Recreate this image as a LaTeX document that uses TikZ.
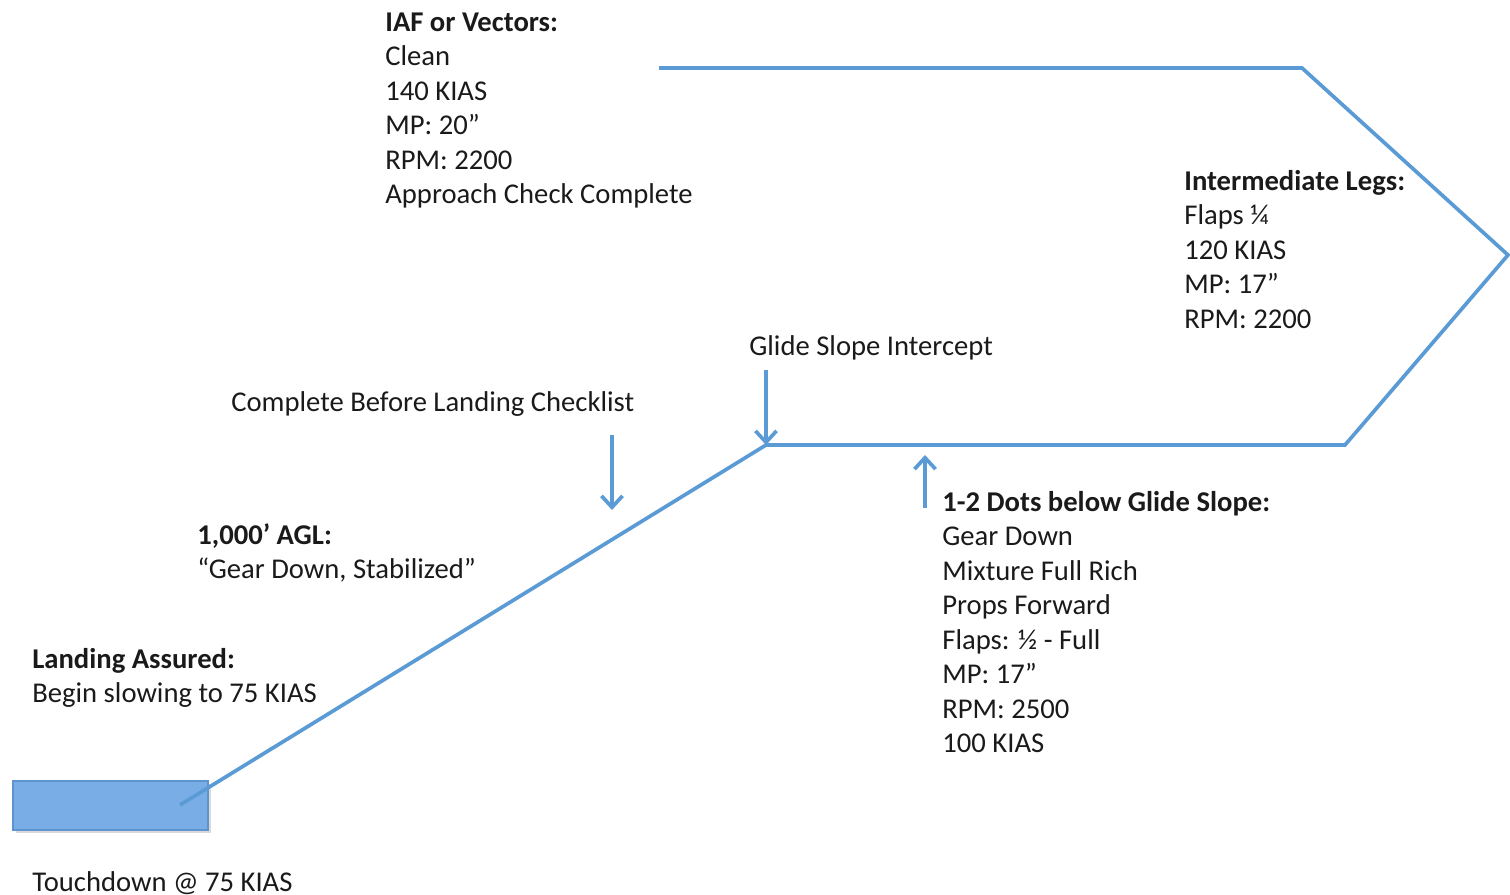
\documentclass[tikz,border=0pt]{standalone}
\usepackage{fontspec}
\setmainfont{Carlito}
\usetikzlibrary{arrows.meta,shadows}
\definecolor{PathBlue}{HTML}{5B9BD5}
\definecolor{RunwayFill}{HTML}{79ADE6}
\definecolor{RunwayEdge}{HTML}{5F93CF}
\definecolor{TextColor}{HTML}{1A1A1A}

\begin{document}
\begin{tikzpicture}[
    x=0.02cm, y=-0.02cm,
    flightpath/.style={draw=PathBlue, line width=2.1pt, line join=miter},
    cuearrow/.style={draw=PathBlue, line width=2.1pt, -{Straight Barb[length=6.5pt,width=12pt]}},
    runway/.style={rectangle, fill=RunwayFill, draw=RunwayEdge, line width=0.6pt, minimum width=3.9cm, minimum height=0.98cm, inner sep=0pt,
        drop shadow={opacity=0.3, shadow xshift=1.5pt, shadow yshift=-1.5pt}},
    infotext/.style={anchor=north west, inner sep=0pt, align=left, text=TextColor, font=\fontsize{16.3}{19.6}\selectfont}
]

\useasboundingbox (0,0) rectangle (1510,895);

% approach path
\coordinate (iaf) at (659,68);
\coordinate (turnin) at (1302,68);
\coordinate (tip) at (1508,255);
\coordinate (base) at (1345,445);
\coordinate (gsi) at (766,445);
\coordinate (td) at (180,805);

\node[runway] (rwy) at (110.5,805.5) {};

\draw[flightpath] (iaf) -- (turnin) -- (tip) -- (base) -- (gsi) -- (td);

% cue arrows
\coordinate (cbl top) at (612,435);
\coordinate (cbl end) at (612,510);
\coordinate (gsi top) at (766,370);
\coordinate (dots low) at (925,508);
\coordinate (dots end) at (925,455);

\draw[cuearrow] (cbl top) -- (cbl end);
\draw[cuearrow] (gsi top) -- (gsi);
\draw[cuearrow] (dots low) -- (dots end);

% labels
\node[infotext] (iaftext) at (385,7) {\strut\textbf{IAF or Vectors:}\\Clean\\140 KIAS\\MP: 20”\\RPM: 2200\\Approach Check Complete};
\node[infotext] (legstext) at (1184,166) {\strut\textbf{Intermediate Legs:}\\Flaps ¼\\120 KIAS\\MP: 17”\\RPM: 2200};
\node[infotext] (gsitext) at (749,331) {\strut Glide Slope Intercept};
\node[infotext] (cbltext) at (231,387) {\strut Complete Before Landing Checklist};
\node[infotext] (dotstext) at (942,487) {\strut\textbf{1-2 Dots below Glide Slope:}\\Gear Down\\Mixture Full Rich\\Props Forward\\Flaps: ½ - Full\\MP: 17”\\RPM: 2500\\100 KIAS};
\node[infotext] (agltext) at (197,520) {\strut\textbf{1,000’ AGL:}\\“Gear Down, Stabilized”};
\node[infotext] (assuredtext) at (32,644) {\strut\textbf{Landing Assured:}\\Begin slowing to 75 KIAS};
\node[infotext] (tdtext) at (32,867) {\strut Touchdown @ 75 KIAS};

\end{tikzpicture}
\end{document}
